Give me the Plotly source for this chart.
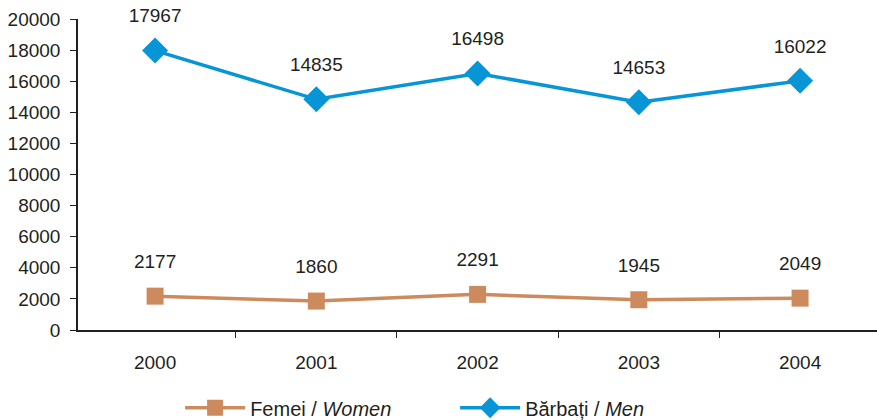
import plotly.graph_objects as go

years = ["2000", "2001", "2002", "2003", "2004"]
women = [2177, 1860, 2291, 1945, 2049]
men = [17967, 14835, 16498, 14653, 16022]
y_ticks = [0, 2000, 4000, 6000, 8000, 10000, 12000, 14000, 16000, 18000, 20000]

blue = "#0895D6"
orange = "#CD8A5C"
txt = "#231F20"
fsize = 19

fig = go.Figure()
fig.add_trace(go.Scatter(
    x=years, y=women, mode="lines+markers", name="Femei / <i>Women</i>",
    line=dict(color=orange, width=3.5),
    marker=dict(symbol="square", size=17, color=orange),
))
fig.add_trace(go.Scatter(
    x=years, y=men, mode="lines+markers", name="Bărbați / <i>Men</i>",
    line=dict(color=blue, width=3.5),
    marker=dict(symbol="diamond", size=20, color=blue),
))

# value labels: invisible large markers push text above each point
for ys in (women, men):
    fig.add_trace(go.Scatter(
        x=years, y=ys, mode="markers+text", text=[str(v) for v in ys],
        textposition="top center", textfont=dict(size=fsize, color=txt),
        marker=dict(size=36, opacity=0), showlegend=False, hoverinfo="skip",
        cliponaxis=False,
    ))

fig.update_layout(
    width=877, height=420,
    margin=dict(l=78, r=0, t=19, b=90, autoexpand=False),
    plot_bgcolor="white", paper_bgcolor="white",
    font=dict(family="Liberation Sans, Arial, sans-serif", size=fsize, color=txt),
    showlegend=True,
    legend=dict(orientation="h", x=0.472, xanchor="center", y=-0.25, yanchor="middle",
                font=dict(size=20, color=txt), itemwidth=60, entrywidth=200),
)
fig.update_xaxes(
    type="category", range=[-0.478, 4.477],
    showline=True, linecolor="#231F20", linewidth=1.5,
    ticks="outside", ticklen=6, tickcolor="#231F20", tickson="boundaries",
    showgrid=False, zeroline=False, tickfont=dict(size=fsize), ticklabelstandoff=14,
)
fig.update_yaxes(
    range=[0, 20000], tickvals=y_ticks, tickformat="d",
    showline=True, linecolor="#231F20", linewidth=1.5,
    ticks="outside", ticklen=6, tickcolor="#231F20",
    showgrid=False, zeroline=False, tickfont=dict(size=fsize), ticklabelstandoff=6,
)

fig.write_html("out.html", config={"displayModeBar": False},
               post_script="document.body.style.margin='0';")
